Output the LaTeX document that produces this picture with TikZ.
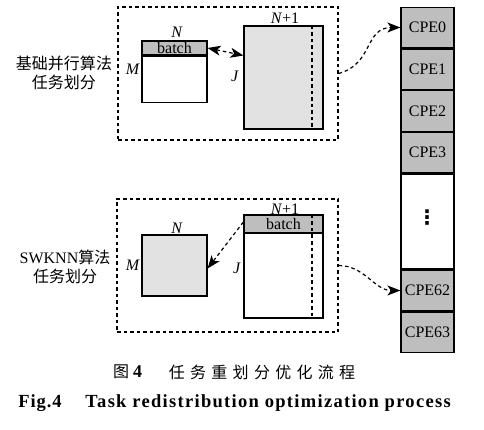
\documentclass[tikz,border=0pt]{standalone}
\usepackage{fontspec}
\setmainfont{Liberation Serif}
\newfontfamily\cjk{Noto Sans CJK SC}
\newfontfamily\dejavu{DejaVu Sans}
\usetikzlibrary{arrows.meta}
\definecolor{midgray}{RGB}{190,190,190}
\definecolor{lightgray}{RGB}{226,226,226}
\tikzset{
  frame/.style={draw, dashed, line width=1.2pt, dash pattern=on 3.5pt off 3pt, inner sep=0pt, minimum width=#1},
  cell/.style={draw, line width=1.2pt, inner sep=0pt, font=\fontsize{16}{16}\selectfont},
  lab/.style={inner sep=0pt, font=\fontsize{16}{16}\selectfont},
  flow/.style={dashed, line width=1.2pt, dash pattern=on 3.5pt off 3pt, -{Stealth[length=13pt,width=10pt,inset=3.5pt]}},
  cpe/.style={cell, fill=midgray, minimum width=53pt, minimum height=40.5pt}
}
\begin{document}
\begin{tikzpicture}[x=1pt,y=-1pt]
\useasboundingbox (0,0) rectangle (484,430);
% top group
\node[frame=220pt, minimum height=133pt] (tb) at (228,73.5) {};
\node[cell, fill=midgray, minimum width=65pt, minimum height=14pt] (batchA) at (174.5,48) {batch};
\node[cell, fill=white, minimum width=65pt, minimum height=46pt, anchor=north] (bodyA) at (batchA.south) {};
\node[cell, fill=lightgray, minimum width=79pt, minimum height=103pt] (B) at (283.5,77.5) {};
\coordinate (Bt) at (312,26);
\coordinate (Bb) at (312,129);
\draw[dashed, line width=1.2pt, dash pattern=on 3.5pt off 3pt] (Bt) -- (Bb);
\node[lab] (NA) at (177,32) {\textit{N}};
\node[lab] (MA) at (133,69) {\textit{M}};
\node[lab] (NB) at (285,18) {\textit{N}+1};
\node[lab] (JB) at (235,76) {\textit{J}};
\node[lab, align=center, font=\fontsize{16}{19}\cjk] (t1) at (64,73) {基础并行算法\\任务划分};
\draw[flow, {Stealth[length=13pt,width=10pt,inset=3.5pt]}-{Stealth[length=13pt,width=10pt,inset=3.5pt]}] (batchA.east) -- ([yshift=22pt]B.west);
% bottom group
\node[frame=221pt, minimum height=133pt] (bb) at (227.5,265.5) {};
\node[cell, fill=lightgray, minimum width=65pt, minimum height=61pt] (C) at (174.5,265.5) {};
\node[cell, fill=white, minimum width=79pt, minimum height=103pt] (D) at (283.5,266.5) {};
\node[cell, fill=midgray, minimum width=79pt, minimum height=18pt, anchor=north] (batchD) at (D.north) {batch};
\coordinate (Dt) at (312,215);
\coordinate (Db) at (312,318);
\draw[dashed, line width=1.2pt, dash pattern=on 3.5pt off 3pt] (Dt) -- (Db);
\node[lab] (NC) at (177,228) {\textit{N}};
\node[lab] (MC) at (133,265) {\textit{M}};
\node[lab] (ND) at (285,209) {\textit{N}+1};
\node[lab] (JD) at (237,268) {\textit{J}};
\node[lab, align=center, font=\fontsize{16}{19}\selectfont] (t2) at (65,267) {SWKNN{\cjk 算法}\\{\cjk 任务划分}};
\draw[flow] ([yshift=2pt]batchD.west) -- ([yshift=-3pt]C.east);
% CPE column
\node[cpe] (c0) at (427.5,27.5) {CPE0};
\node[cpe, anchor=north] (c1) at (c0.south) {CPE1};
\node[cpe, anchor=north] (c2) at (c1.south) {CPE2};
\node[cpe, anchor=north] (c3) at (c2.south) {CPE3};
\node[cell, fill=white, minimum width=53pt, minimum height=95pt, anchor=north] (dots) at (c3.south) {};
\node[lab, font=\fontsize{20}{20}\bfseries\dejavu] (vd) at (427,218) {⋮};
\node[cpe, anchor=north] (c62) at (dots.south) {CPE62};
\node[cpe, anchor=north] (c63) at (c62.south) {CPE63};
\draw[flow] (tb.east) to[out=15,in=180,looseness=1.2] (c0.west);
\draw[flow] (bb.east) to[out=0,in=180] (c62.west);
% captions
\node[lab, font=\fontsize{16}{16}\cjk] (cap1a) at (127.5,372) {图\hspace{4pt}{\rmfamily\bfseries\fontsize{18}{18}\selectfont 4}};
\node[lab, font=\fontsize{16}{16}\cjk\addfontfeature{LetterSpace=33}] (cap1b) at (262,372) {任务重划分优化流程};
\node[lab, font=\fontsize{18.5}{18.5}\bfseries\addfontfeature{LetterSpace=5}] (cap2a) at (40,403) {Fig.4};
\node[lab, font=\fontsize{18.5}{18.5}\bfseries\addfontfeature{LetterSpace=7}] (cap2b) at (268,403) {Task redistribution optimization process};
\end{tikzpicture}
\end{document}
